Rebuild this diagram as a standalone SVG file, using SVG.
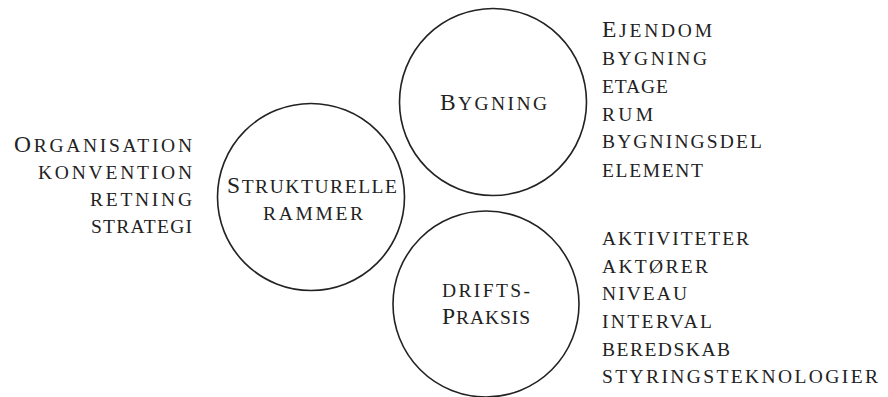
<svg xmlns="http://www.w3.org/2000/svg" width="888" height="397" viewBox="0 0 888 397">
<style>
text{font-family:"Liberation Serif","Times New Roman",serif;font-size:19.5px;text-transform:uppercase;fill:#222;}
.cap{font-size:23.5px;}
.c{fill:none;stroke:#222;stroke-width:1.6;}
.m{text-anchor:middle;}
.e{text-anchor:end;}
</style>
<rect width="888" height="397" fill="#fff"/>
<g id="connectors"></g>
<g id="node-bygning">
<circle class="c" cx="493" cy="102" r="93.5"/>
<text class="m" x="493.5" y="110" textLength="107"><tspan class="cap">B</tspan>ygning</text>
</g>
<g id="node-strukturelle">
<circle class="c" cx="311" cy="197" r="93.5"/>
<text class="m" x="312" y="193" textLength="170"><tspan class="cap">S</tspan>trukturelle</text>
<text class="m" x="313" y="220" textLength="100">rammer</text>
</g>
<g id="node-drift">
<circle class="c" cx="486" cy="304" r="93"/>
<text class="m" x="486" y="297" textLength="88">drifts-</text>
<text class="m" x="486" y="324" textLength="88"><tspan class="cap">P</tspan>raksis</text>
</g>
<g id="list-strukturelle">
<text class="e" x="192" y="152" textLength="178"><tspan class="cap">O</tspan>rganisation</text>
<text class="e" x="192" y="179" textLength="154">konvention</text>
<text class="e" x="192" y="206" textLength="102">retning</text>
<text class="e" x="192" y="233" textLength="101">strategi</text>
</g>
<g id="list-bygning">
<text x="602" y="37" textLength="110"><tspan class="cap">E</tspan>jendom</text>
<text x="602" y="65" textLength="105">bygning</text>
<text x="602" y="93" textLength="66">etage</text>
<text x="602" y="121" textLength="51">rum</text>
<text x="602" y="148" textLength="160">bygningsdel</text>
<text x="602" y="177" textLength="101">element</text>
</g>
<g id="list-drift">
<text x="602" y="245" textLength="147">aktiviteter</text>
<text x="602" y="273" textLength="106">aktører</text>
<text x="602" y="300" textLength="85">niveau</text>
<text x="602" y="328" textLength="110">interval</text>
<text x="602" y="356" textLength="128">beredskab</text>
<text x="602" y="383" textLength="276">styringsteknologier</text>
</g>
</svg>
